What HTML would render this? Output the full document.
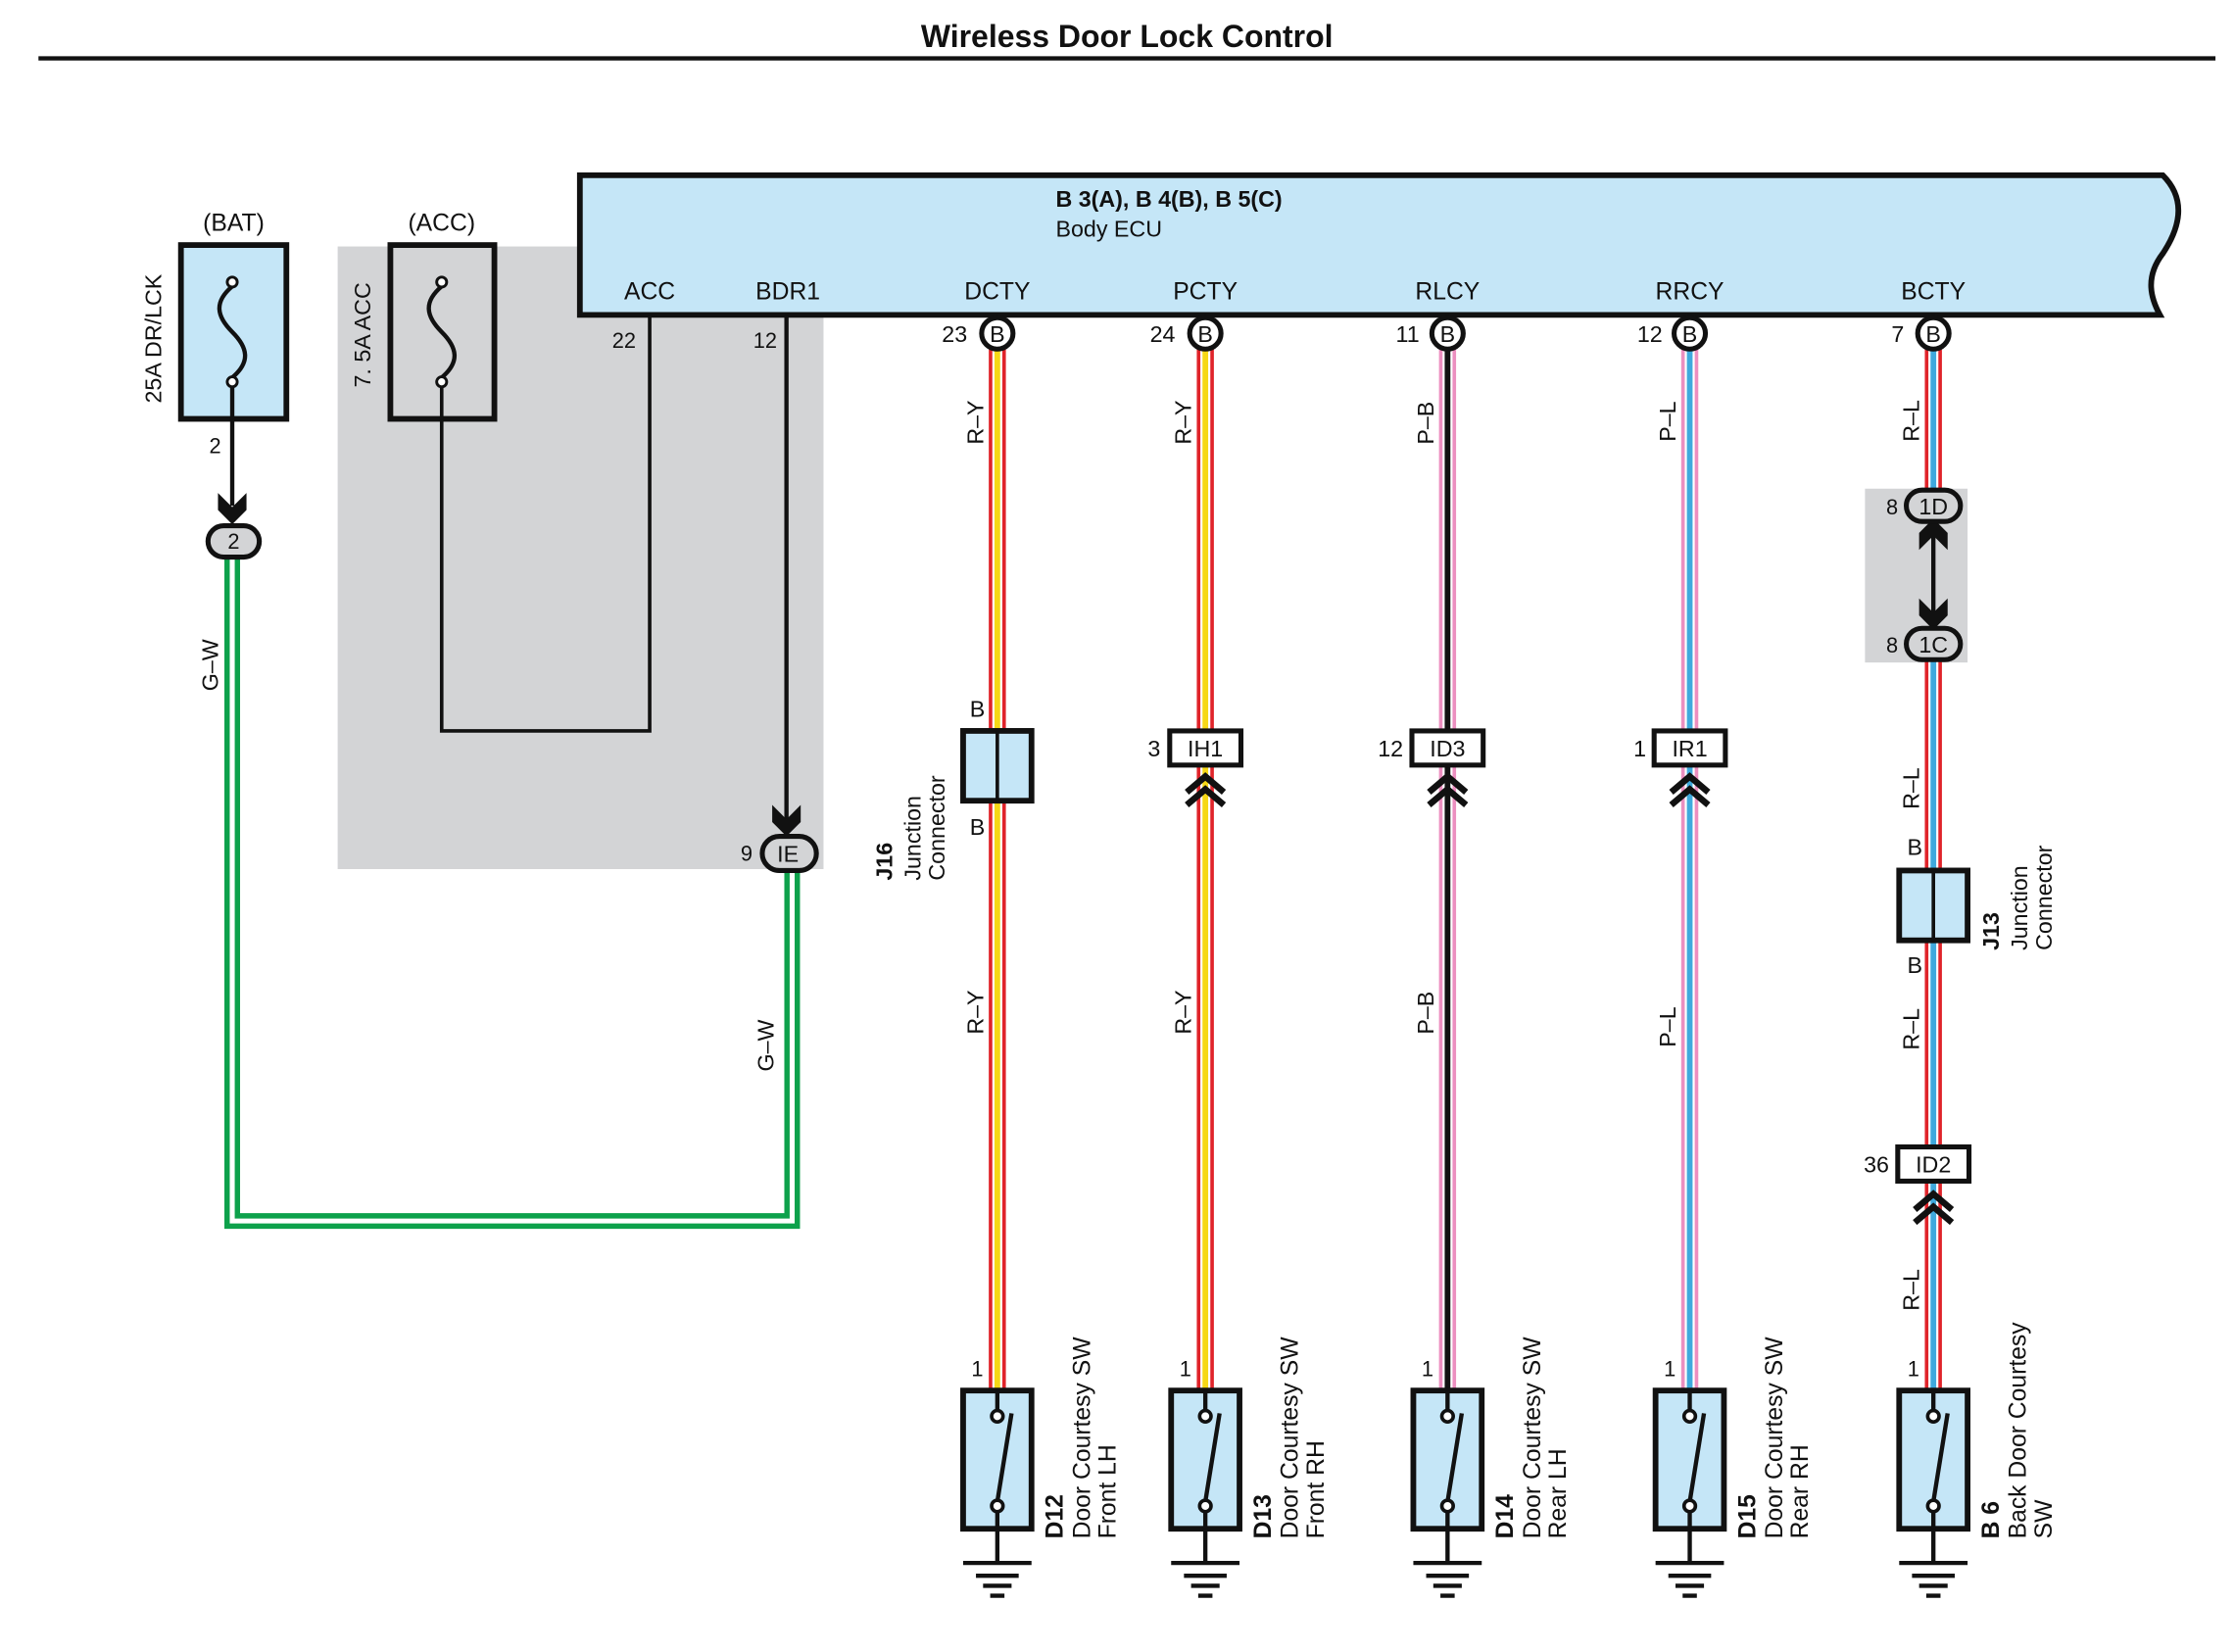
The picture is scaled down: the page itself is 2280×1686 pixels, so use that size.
<!DOCTYPE html>
<html><head><meta charset="utf-8"><style>
html,body{margin:0;padding:0;background:#fff;}
svg{display:block;}
text{font-family:"Liberation Sans",Arial,sans-serif;fill:#111;}
</style></head><body>
<svg width="2280" height="1686" viewBox="0 0 1568 1159.5" xmlns="http://www.w3.org/2000/svg">
<defs>
<g id="chev"><polyline points="-13,11 0,0 13,11" fill="none" stroke="#111" stroke-width="4.5"/><polyline points="-13,20 0,9 13,20" fill="none" stroke="#111" stroke-width="4.5"/></g>
<g id="gnd"><line x1="0" y1="0" x2="0" y2="24" stroke="#111" stroke-width="3"/><line x1="-24" y1="24" x2="24" y2="24" stroke="#111" stroke-width="3"/><line x1="-15" y1="33" x2="15" y2="33" stroke="#111" stroke-width="3"/><line x1="-10" y1="40" x2="10" y2="40" stroke="#111" stroke-width="3"/><line x1="-5" y1="47" x2="5" y2="47" stroke="#111" stroke-width="3"/></g>
<g id="sw"><rect x="-24" y="0" width="48" height="97" fill="#c5e6f7" stroke="#111" stroke-width="4"/><line x1="0" y1="0" x2="0" y2="14" stroke="#111" stroke-width="3"/><circle cx="0" cy="18" r="4" fill="#fff" stroke="#111" stroke-width="2.5"/><line x1="0" y1="78" x2="10" y2="16" stroke="#111" stroke-width="3"/><circle cx="0" cy="81" r="4" fill="#fff" stroke="#111" stroke-width="2.5"/><line x1="0" y1="85" x2="0" y2="97" stroke="#111" stroke-width="3"/></g>
</defs>

<text x="791" y="33" font-size="22" font-weight="bold" text-anchor="middle">Wireless Door Lock Control</text>
<line x1="27" y1="41" x2="1555" y2="41" stroke="#111" stroke-width="3"/>

<rect x="237" y="173" width="341" height="437" fill="#d3d4d6"/>
<rect x="1309" y="343" width="72" height="122" fill="#d3d4d6"/>

<path d="M407,123 H1518 C1535,140 1530,160 1518,178 C1505,195 1510,210 1516,221 H407 Z" fill="#c5e6f7" stroke="#111" stroke-width="4"/>
<text x="741" y="145" font-size="16" font-weight="bold">B 3(A), B 4(B), B 5(C)</text>
<text x="741" y="166" font-size="16">Body ECU</text>
<g font-size="17" text-anchor="middle">
<text x="456" y="210">ACC</text><text x="553" y="210">BDR1</text><text x="700" y="210">DCTY</text><text x="846" y="210">PCTY</text><text x="1016" y="210">RLCY</text><text x="1186" y="210">RRCY</text><text x="1357" y="210">BCTY</text>
</g>
<text x="438" y="244" font-size="15" text-anchor="middle">22</text>
<text x="537" y="244" font-size="15" text-anchor="middle">12</text>

<text x="164" y="162" font-size="17" text-anchor="middle">(BAT)</text>
<text x="310" y="162" font-size="17" text-anchor="middle">(ACC)</text>
<rect x="127" y="172" width="74" height="122" fill="#c5e6f7" stroke="#111" stroke-width="4"/>
<rect x="274" y="172" width="73" height="122" fill="none" stroke="#111" stroke-width="4"/>
<path d="M163,201 C150,212 152,222 163,233 C174,244 176,254 163,265" fill="none" stroke="#111" stroke-width="3"/>
<circle cx="163" cy="198" r="3.5" fill="#fff" stroke="#111" stroke-width="2"/><circle cx="163" cy="268" r="3.5" fill="#fff" stroke="#111" stroke-width="2"/>
<path d="M310,201 C297,212 299,222 310,233 C321,244 323,254 310,265" fill="none" stroke="#111" stroke-width="3"/>
<circle cx="310" cy="198" r="3.5" fill="#fff" stroke="#111" stroke-width="2"/><circle cx="310" cy="268" r="3.5" fill="#fff" stroke="#111" stroke-width="2"/>
<text transform="translate(113,283) rotate(-90)" font-size="16">25A DR/LCK</text>
<text transform="translate(260,272) rotate(-90)" font-size="16">7. 5A ACC</text>

<line x1="163" y1="271" x2="163" y2="355" stroke="#111" stroke-width="3"/>
<polygon points="153,346 163,356 173,346 173,358 163,368 153,358" fill="#111"/>
<text x="151" y="318" font-size="15" text-anchor="middle">2</text>
<polyline points="310,271 310,513 456,513 456,221" fill="none" stroke="#111" stroke-width="2.5"/>
<line x1="552" y1="221" x2="552" y2="575" stroke="#111" stroke-width="3"/>
<polygon points="542,565 552,575 562,565 562,577 552,587 542,577" fill="#111"/>

<polyline points="163,390 163,857 556,857 556,610" fill="none" stroke="#0da14b" stroke-width="11"/>
<polyline points="163,390 163,857 556,857 556,610" fill="none" stroke="#fff" stroke-width="3.5"/>
<rect x="146" y="369" width="36" height="22" rx="11" fill="#d3d4d6" stroke="#111" stroke-width="3.5"/>
<text x="164" y="385" font-size="15" text-anchor="middle">2</text>
<rect x="535" y="587" width="38" height="24" rx="12" fill="#d3d4d6" stroke="#111" stroke-width="3.5"/>
<text x="553" y="605" font-size="16" text-anchor="middle">IE</text>
<text x="524" y="604" font-size="15" text-anchor="middle">9</text>
<text transform="translate(153,485) rotate(-90)" font-size="16">G–W</text>
<text transform="translate(543,752) rotate(-90)" font-size="16">G–W</text>

<g fill="none">
<line x1="700" y1="244" x2="700" y2="976" stroke="#e0242a" stroke-width="12"/>
<line x1="700" y1="244" x2="700" y2="976" stroke="#fff" stroke-width="7"/>
<line x1="700" y1="244" x2="700" y2="976" stroke="#f6d816" stroke-width="4"/>
<line x1="846" y1="244" x2="846" y2="976" stroke="#e0242a" stroke-width="12"/>
<line x1="846" y1="244" x2="846" y2="976" stroke="#fff" stroke-width="7"/>
<line x1="846" y1="244" x2="846" y2="976" stroke="#f6d816" stroke-width="4"/>
<line x1="1016" y1="244" x2="1016" y2="976" stroke="#ec8fc0" stroke-width="12"/>
<line x1="1016" y1="244" x2="1016" y2="976" stroke="#fff" stroke-width="7"/>
<line x1="1016" y1="244" x2="1016" y2="976" stroke="#111" stroke-width="4"/>
<line x1="1186" y1="244" x2="1186" y2="976" stroke="#ec8fc0" stroke-width="12"/>
<line x1="1186" y1="244" x2="1186" y2="976" stroke="#fff" stroke-width="7"/>
<line x1="1186" y1="244" x2="1186" y2="976" stroke="#3fa9dd" stroke-width="4"/>
<line x1="1357" y1="244" x2="1357" y2="345" stroke="#e0242a" stroke-width="12"/>
<line x1="1357" y1="244" x2="1357" y2="345" stroke="#fff" stroke-width="7"/>
<line x1="1357" y1="244" x2="1357" y2="345" stroke="#3fa9dd" stroke-width="4"/>
<line x1="1357" y1="462" x2="1357" y2="976" stroke="#e0242a" stroke-width="12"/>
<line x1="1357" y1="462" x2="1357" y2="976" stroke="#fff" stroke-width="7"/>
<line x1="1357" y1="462" x2="1357" y2="976" stroke="#3fa9dd" stroke-width="4"/>
</g>

<g font-size="16" text-anchor="middle">
<circle cx="700" cy="234" r="11" fill="#fff" stroke="#111" stroke-width="3.5"/><text x="700" y="240">B</text><text x="670" y="240">23</text>
<circle cx="846" cy="234" r="11" fill="#fff" stroke="#111" stroke-width="3.5"/><text x="846" y="240">B</text><text x="816" y="240">24</text>
<circle cx="1016" cy="234" r="11" fill="#fff" stroke="#111" stroke-width="3.5"/><text x="1016" y="240">B</text><text x="988" y="240">11</text>
<circle cx="1186" cy="234" r="11" fill="#fff" stroke="#111" stroke-width="3.5"/><text x="1186" y="240">B</text><text x="1158" y="240">12</text>
<circle cx="1357" cy="234" r="11" fill="#fff" stroke="#111" stroke-width="3.5"/><text x="1357" y="240">B</text><text x="1332" y="240">7</text>
</g>

<g font-size="16">
<text transform="translate(690,312) rotate(-90)">R–Y</text>
<text transform="translate(836,312) rotate(-90)">R–Y</text>
<text transform="translate(1006,312) rotate(-90)">P–B</text>
<text transform="translate(1176,310) rotate(-90)">P–L</text>
<text transform="translate(1347,310) rotate(-90)">R–L</text>
<text transform="translate(690,726) rotate(-90)">R–Y</text>
<text transform="translate(836,726) rotate(-90)">R–Y</text>
<text transform="translate(1006,726) rotate(-90)">P–B</text>
<text transform="translate(1176,735) rotate(-90)">P–L</text>
<text transform="translate(1347,568) rotate(-90)">R–L</text>
<text transform="translate(1347,737) rotate(-90)">R–L</text>
<text transform="translate(1347,920) rotate(-90)">R–L</text>
</g>

<rect x="676" y="513" width="48" height="49" fill="#c5e6f7" stroke="#111" stroke-width="4"/>
<line x1="700" y1="513" x2="700" y2="562" stroke="#111" stroke-width="2.5"/>
<text x="686" y="503" font-size="16" text-anchor="middle">B</text>
<text x="686" y="586" font-size="16" text-anchor="middle">B</text>
<text transform="translate(626,618) rotate(-90)" font-size="16" font-weight="bold">J16</text>
<text transform="translate(646,618) rotate(-90)" font-size="16">Junction</text>
<text transform="translate(663,618) rotate(-90)" font-size="16">Connector</text>

<g font-size="16" text-anchor="middle">
<rect x="821" y="513" width="50" height="24" fill="#fff" stroke="#111" stroke-width="3.5"/><text x="846" y="531">IH1</text><text x="810" y="531">3</text>
<rect x="991" y="513" width="50" height="24" fill="#fff" stroke="#111" stroke-width="3.5"/><text x="1016" y="531">ID3</text><text x="976" y="531">12</text>
<rect x="1161" y="513" width="50" height="24" fill="#fff" stroke="#111" stroke-width="3.5"/><text x="1186" y="531">IR1</text><text x="1151" y="531">1</text>
<rect x="1332" y="805" width="50" height="24" fill="#fff" stroke="#111" stroke-width="3.5"/><text x="1357" y="823">ID2</text><text x="1317" y="823">36</text>
</g>
<use href="#chev" x="846" y="545"/><use href="#chev" x="1016" y="545"/><use href="#chev" x="1186" y="545"/><use href="#chev" x="1357" y="838"/>

<line x1="1357" y1="368" x2="1357" y2="440" stroke="#111" stroke-width="3"/>
<polygon points="1347,386 1357,376 1367,386 1367,374 1357,364 1347,374" fill="#111"/>
<polygon points="1347,420 1357,430 1367,420 1367,432 1357,442 1347,432" fill="#111"/>
<rect x="1338" y="344" width="38" height="22" rx="11" fill="#d3d4d6" stroke="#111" stroke-width="3.5"/>
<text x="1357" y="361" font-size="16" text-anchor="middle">1D</text>
<text x="1328" y="361" font-size="15" text-anchor="middle">8</text>
<rect x="1338" y="441" width="38" height="22" rx="11" fill="#d3d4d6" stroke="#111" stroke-width="3.5"/>
<text x="1357" y="458" font-size="16" text-anchor="middle">1C</text>
<text x="1328" y="458" font-size="15" text-anchor="middle">8</text>

<rect x="1333" y="611" width="48" height="49" fill="#c5e6f7" stroke="#111" stroke-width="4"/>
<line x1="1357" y1="611" x2="1357" y2="660" stroke="#111" stroke-width="2.5"/>
<text x="1344" y="600" font-size="16" text-anchor="middle">B</text>
<text x="1344" y="683" font-size="16" text-anchor="middle">B</text>
<text transform="translate(1403,667) rotate(-90)" font-size="16" font-weight="bold">J13</text>
<text transform="translate(1423,667) rotate(-90)" font-size="16">Junction</text>
<text transform="translate(1440,667) rotate(-90)" font-size="16">Connector</text>

<use href="#sw" x="700" y="976"/><use href="#sw" x="846" y="976"/><use href="#sw" x="1016" y="976"/><use href="#sw" x="1186" y="976"/><use href="#sw" x="1357" y="976"/>
<use href="#gnd" x="700" y="1073"/><use href="#gnd" x="846" y="1073"/><use href="#gnd" x="1016" y="1073"/><use href="#gnd" x="1186" y="1073"/><use href="#gnd" x="1357" y="1073"/>
<g font-size="15" text-anchor="middle">
<text x="686" y="966">1</text><text x="832" y="966">1</text><text x="1002" y="966">1</text><text x="1172" y="966">1</text><text x="1343" y="966">1</text>
</g>
<g font-size="17">
<text transform="translate(746,1080) rotate(-90)" font-weight="bold">D12</text>
<text transform="translate(765,1080) rotate(-90)">Door Courtesy SW</text>
<text transform="translate(783,1080) rotate(-90)">Front LH</text>
<text transform="translate(892,1080) rotate(-90)" font-weight="bold">D13</text>
<text transform="translate(911,1080) rotate(-90)">Door Courtesy SW</text>
<text transform="translate(929,1080) rotate(-90)">Front RH</text>
<text transform="translate(1062,1080) rotate(-90)" font-weight="bold">D14</text>
<text transform="translate(1081,1080) rotate(-90)">Door Courtesy SW</text>
<text transform="translate(1099,1080) rotate(-90)">Rear LH</text>
<text transform="translate(1232,1080) rotate(-90)" font-weight="bold">D15</text>
<text transform="translate(1251,1080) rotate(-90)">Door Courtesy SW</text>
<text transform="translate(1269,1080) rotate(-90)">Rear RH</text>
<text transform="translate(1403,1080) rotate(-90)" font-weight="bold">B 6</text>
<text transform="translate(1422,1080) rotate(-90)">Back Door Courtesy</text>
<text transform="translate(1440,1080) rotate(-90)">SW</text>
</g>
</svg>
</body></html>
